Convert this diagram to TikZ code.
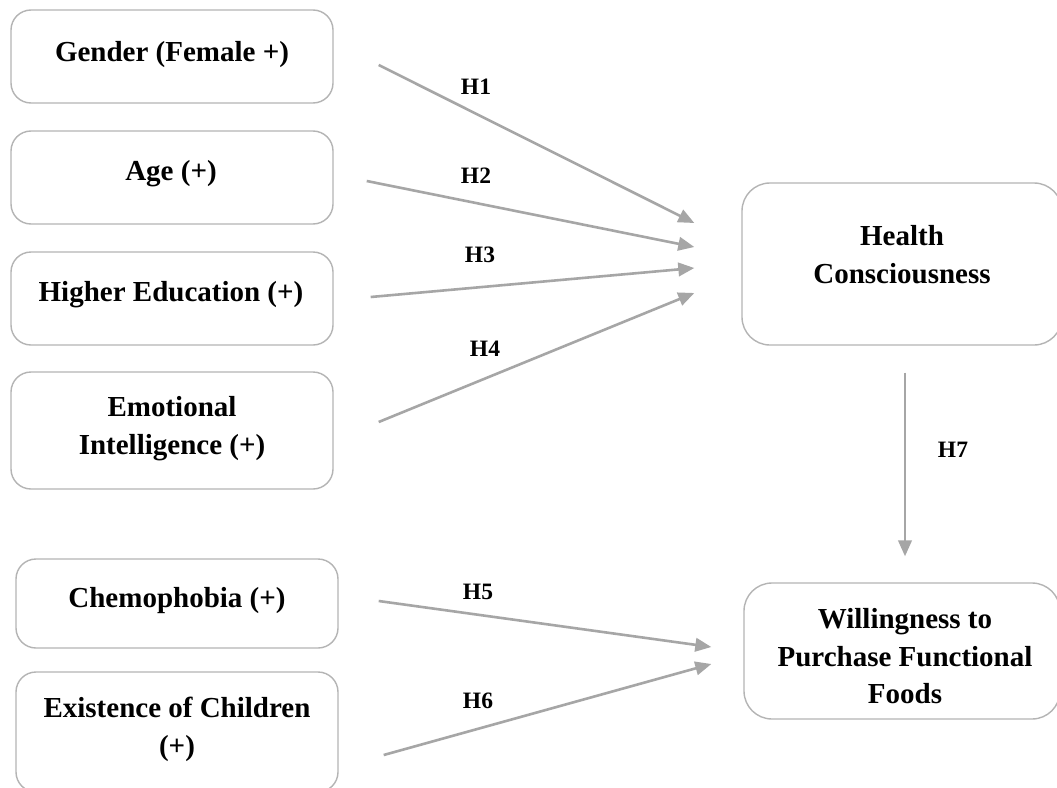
\documentclass[tikz,border=0pt]{standalone}
\usepackage{fontspec}
\setmainfont{Liberation Serif}
\usetikzlibrary{arrows.meta}
\definecolor{arrgray}{RGB}{166,166,166}
\definecolor{boxgray}{RGB}{180,180,180}
\begin{document}
\begin{tikzpicture}[x=1pt,y=-1pt,
  box/.style={draw=boxgray,line width=1.4pt,rounded corners=20pt,fill=white,inner sep=0pt},
  bigbox/.style={box,rounded corners=28pt},
  txt/.style={font=\fontsize{29}{37.5}\selectfont\bfseries,align=center,inner sep=0pt,text height=20pt,anchor=north},
  hlab/.style={font=\fontsize{23.5}{28}\selectfont\bfseries,inner sep=0pt},
  arr/.style={draw=arrgray,line width=2.6pt,-{Triangle[length=16pt,width=13.5pt]}}]
\useasboundingbox (0,0) rectangle (1057,787);
\fill[white] (0,0) rectangle (1057,787);
\begin{scope}
\clip (0,0) rectangle (1057,787);
\node[box,minimum width=322pt,minimum height=93pt] (g) at (172,56.5) {};
\node[box,minimum width=322pt,minimum height=93pt] (a) at (172,177.5) {};
\node[box,minimum width=322pt,minimum height=93pt] (he) at (172,298.5) {};
\node[box,minimum width=322pt,minimum height=117pt] (ei) at (172,430.5) {};
\node[box,minimum width=322pt,minimum height=89pt] (ch) at (177,603.5) {};
\node[box,minimum width=322pt,minimum height=120pt] (ec) at (177,732) {};
\node[bigbox,minimum width=320pt,minimum height=162pt] (hc) at (902,264) {};
\node[bigbox,minimum width=316pt,minimum height=136pt] (wp) at (902,651) {};
\end{scope}
\node[txt] (gt) at (172,41.6) {Gender (Female +)};
\node[txt] (at) at (171,160.6) {Age (+)};
\node[txt] (het) at (171,281.6) {Higher Education (+)};
\node[txt] (eit) at (172,434.1) {Emotional\\Intelligence (+)};
\node[txt] (cht) at (177,587.6) {Chemophobia (+)};
\node[txt] (ect) at (177,735.1) {Existence of Children\\(+)};
\node[txt] (hct) at (902,263.1) {Health\\Consciousness};
\node[txt] (wpt) at (905,683.6) {Willingness to\\Purchase Functional\\Foods};
\draw[arr] ([shift={(45,8.5)}]g.east) -- ([shift={(-47,-41)}]hc.west);
\draw[arr] ([shift={(33,3.5)}]a.east) -- ([shift={(-47,-17)}]hc.west);
\draw[arr] ([shift={(37,-1.5)}]he.east) -- ([shift={(-47,4)}]hc.west);
\draw[arr] ([shift={(45,-8.5)}]ei.east) -- ([shift={(-47,29)}]hc.west);
\draw[arr] ([shift={(40,-2.5)}]ch.east) -- ([shift={(-32,-4)}]wp.west);
\draw[arr] ([shift={(45,23)}]ec.east) -- ([shift={(-32,13)}]wp.west);
\draw[arr] ([shift={(3,27)}]hc.south) -- ([shift={(3,-26)}]wp.north);
\node[hlab] (h1) at (476,87) {H1};
\node[hlab] (h2) at (476,176) {H2};
\node[hlab] (h3) at (480,255) {H3};
\node[hlab] (h4) at (485,349) {H4};
\node[hlab] (h5) at (478,592) {H5};
\node[hlab] (h6) at (478,701) {H6};
\node[hlab] (h7) at (953,450) {H7};
\end{tikzpicture}
\end{document}
